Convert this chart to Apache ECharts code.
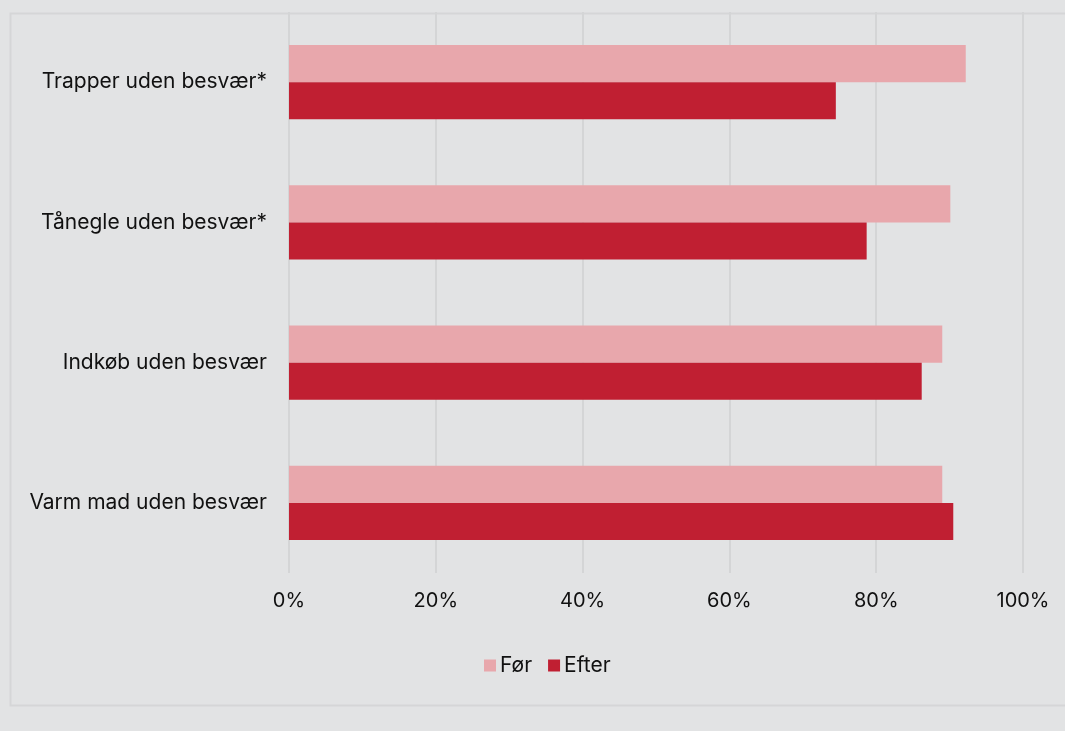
<!DOCTYPE html>
<html>
<head>
<meta charset="utf-8">
<script src="https://cdn.jsdelivr.net/npm/echarts@6/dist/echarts.min.js"></script>
<style>
html,body{margin:0;padding:0;background:#e2e3e4;}
#chart{width:1065px;height:731px;}
</style>
</head>
<body>
<div id="chart"></div>
<script>
const categories = ["Trapper uden besvær*", "Tånegle uden besvær*", "Indkøb uden besvær", "Varm mad uden besvær"];
const seriesNames = ["Før", "Efter"];
const forValues = [92.2, 90.1, 89.0, 89.0];
const efterValues = [74.5, 78.7, 86.2, 90.5];
const xTicks = [0, 20, 40, 60, 80, 100];

const chart = echarts.init(document.getElementById('chart'), null, {renderer: 'canvas'});
const font = 'Inter, "Noto Sans", sans-serif';
chart.setOption({
  backgroundColor: '#e2e3e4',
  animation: false,
  graphic: [{
    type: 'rect', left: 8, top: 11, silent: true, z: -1,
    shape: {width: 1080, height: 692},
    style: {fill: 'none', stroke: '#d5d6d7', lineWidth: 2}
  }],
  grid: {left: 289, right: 42, top: 12, bottom: 158, containLabel: false},
  legend: {
    data: seriesNames, bottom: 50, left: 479,
    itemWidth: 12, itemHeight: 12, itemGap: 16, icon: 'rect',
    textStyle: {fontFamily: font, fontSize: 21, color: '#111', padding: [0,0,0,-1]}
  },
  xAxis: {
    type: 'value', min: xTicks[0], max: xTicks[xTicks.length-1], interval: 20,
    axisLine: {show: false}, axisTick: {show: false},
    splitLine: {show: true, lineStyle: {color: '#d4d5d6', width: 2}},
    axisLabel: {formatter: v => v + '%', fontFamily: font, fontSize: 20, color: '#111', margin: 18}
  },
  yAxis: {
    type: 'category', data: categories, inverse: true,
    axisLine: {show: false}, axisTick: {show: false},
    axisLabel: {fontFamily: font, fontSize: 21, color: '#111', margin: 22}
  },
  series: [
    {name: seriesNames[0], type: 'bar', data: forValues, itemStyle: {color: '#e8a7ac'}, barGap: '0%', barCategoryGap: '47%'},
    {name: seriesNames[1], type: 'bar', data: efterValues, itemStyle: {color: '#c01f32'}, barGap: '0%', barCategoryGap: '47%'}
  ]
});
</script>
</body>
</html>
